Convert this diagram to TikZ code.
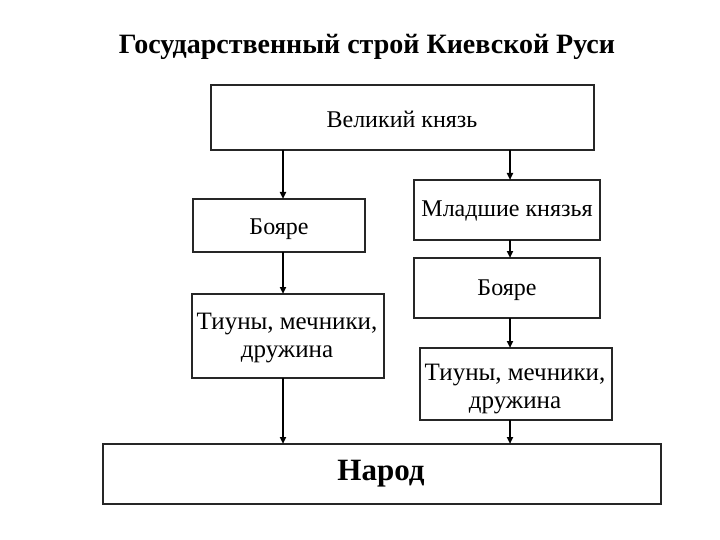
\documentclass[tikz,border=0pt]{standalone}
\usepackage{fontspec}
\setmainfont{Liberation Serif}
\usetikzlibrary{arrows.meta}
\begin{document}
\begin{tikzpicture}[x=1pt,y=-1pt,
  box/.style={draw=black!85,line width=1.2pt,fill=white,inner sep=0pt},
  lbl/.style={font=\fontsize{24}{28}\selectfont,align=center},
  lblb/.style={font=\fontsize{25}{28.5}\selectfont,align=center},
  arr/.style={line width=1.8pt,-{Triangle[length=7pt,width=6pt]}}]
\useasboundingbox (0,0) rectangle (720,540);
\node[font=\bfseries\fontsize{28}{32}\selectfont] (title) at (367,47) {Государственный строй Киевской Руси};
% boxes
\draw[box] (211,85) rectangle (594,150);
\node[lbl] (vk) at (402,119) {Великий князь};
\coordinate (vkL) at (283,150); \coordinate (vkR) at (510,150);
\draw[box] (193,199) rectangle (365,252);
\node[lbl] (b1) at (279,229) {Бояре};
\coordinate (b1T) at (283,199); \coordinate (b1B) at (283,252);
\draw[box] (414,180) rectangle (600,240);
\node[lbl] (mk) at (507,211) {Младшие князья};
\coordinate (mkT) at (510,180); \coordinate (mkB) at (510,240);
\draw[box] (414,258) rectangle (600,318);
\node[lbl] (b2) at (507,290) {Бояре};
\coordinate (b2T) at (510,258); \coordinate (b2B) at (510,318);
\draw[box] (192,294) rectangle (384,378);
\node[lblb] (t1) at (287,338) {Тиуны, мечники,\\дружина};
\coordinate (t1T) at (283,294); \coordinate (t1B) at (283,378);
\draw[box] (420,348) rectangle (612,420);
\node[lblb] (t2) at (515,389) {Тиуны, мечники,\\дружина};
\coordinate (t2T) at (510,348); \coordinate (t2B) at (510,420);
\draw[box] (103,444) rectangle (661,504);
\node[font=\bfseries\fontsize{31}{35}\selectfont] (nar) at (381,474) {Народ};
\coordinate (narL) at (283,444); \coordinate (narR) at (510,444);
% arrows
\draw[arr] (vkL) -- (b1T);
\draw[arr] (b1B) -- (t1T);
\draw[arr] (t1B) -- (narL);
\draw[arr] (vkR) -- (mkT);
\draw[arr] (mkB) -- (b2T);
\draw[arr] (b2B) -- (t2T);
\draw[arr] (t2B) -- (narR);
\end{tikzpicture}
\end{document}
